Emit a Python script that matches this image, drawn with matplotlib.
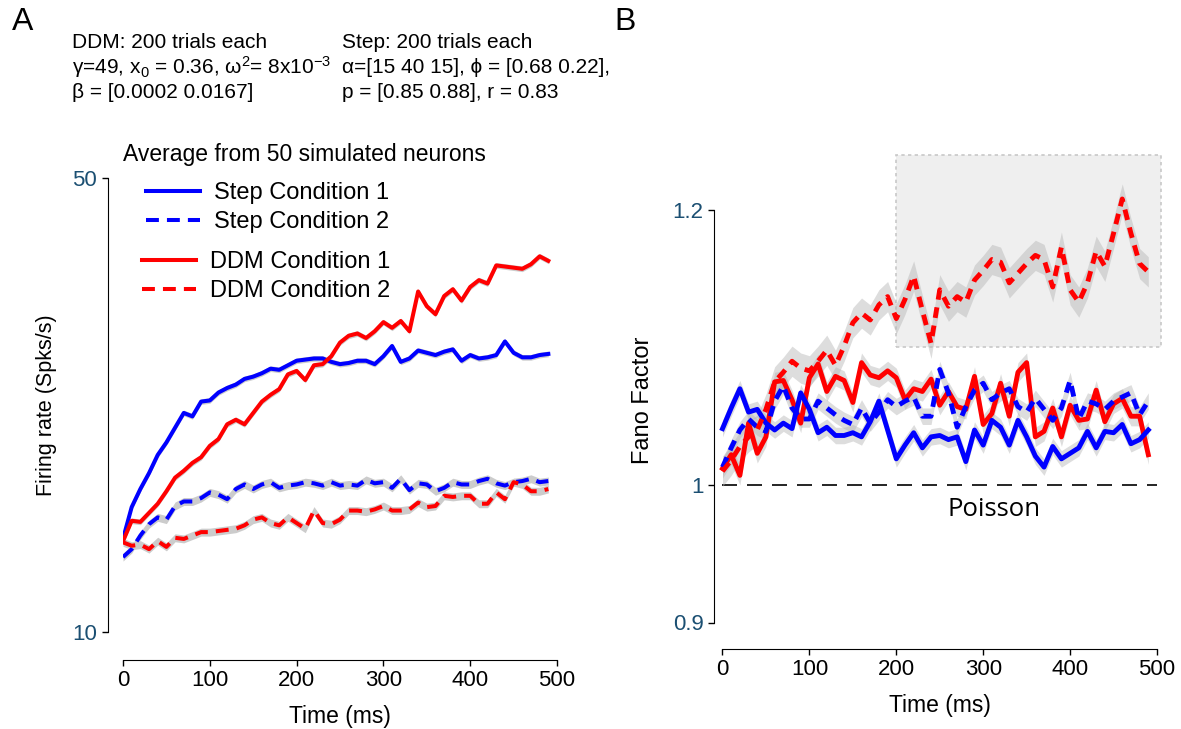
import numpy as np
import matplotlib
matplotlib.use("Agg")
import matplotlib.pyplot as plt
from matplotlib.patches import Rectangle

plt.rcParams['font.family'] = ['Liberation Sans', 'DejaVu Sans']
plt.rcParams['mathtext.fontset'] = 'custom'
plt.rcParams['mathtext.rm'] = 'Liberation Sans'
plt.rcParams['mathtext.it'] = 'Liberation Sans:italic'

# ---------------- data ----------------
time_ms = np.arange(0, 500, 10)

# Panel A: firing rate (Spks/s)
step1_fr = [18.2, 21.0, 22.6, 24.0, 25.6, 26.7, 28.0, 29.3, 29.0, 30.3,
            30.4, 31.1, 31.5, 31.8, 32.3, 32.5, 32.8, 33.2, 33.1, 33.5,
            33.9, 34.0, 34.1, 34.1, 33.8, 33.6, 33.7, 33.9, 33.9, 33.6,
            34.3, 35.2, 33.8, 34.1, 34.8, 34.6, 34.4, 34.7, 34.9, 33.9,
            34.4, 34.1, 34.2, 34.4, 35.6, 34.6, 34.2, 34.2, 34.4, 34.5]
step2_fr = [16.6, 17.3, 18.5, 19.5, 20.1, 19.9, 21.1, 21.5, 21.5, 21.8,
            22.3, 22.1, 21.7, 22.6, 23.0, 22.6, 23.0, 23.2, 22.7, 22.9,
            23.0, 23.2, 23.1, 22.9, 23.2, 22.9, 23.0, 22.9, 23.4, 23.1,
            23.2, 22.7, 23.5, 22.5, 23.1, 23.0, 22.4, 22.7, 23.2, 23.0,
            23.0, 23.3, 23.5, 23.1, 22.9, 23.2, 23.3, 23.5, 23.2, 23.3]
ddm1_fr = [18.0, 19.8, 19.7, 20.5, 21.3, 22.4, 23.6, 24.2, 24.9, 25.4,
           26.4, 27.0, 28.3, 28.7, 28.3, 29.3, 30.3, 30.9, 31.4, 32.7,
           33.0, 32.2, 33.5, 33.6, 34.3, 35.5, 36.1, 36.3, 35.9, 36.5,
           37.3, 36.8, 37.4, 36.5, 40.0, 38.7, 38.0, 39.6, 40.2, 39.2,
           40.4, 41.0, 40.7, 42.3, 42.2, 42.1, 42.0, 42.4, 43.1, 42.7]
ddm2_fr = [17.9, 17.6, 17.7, 17.3, 18.0, 17.5, 18.3, 18.2, 18.5, 18.8,
           18.8, 18.9, 19.0, 19.1, 19.4, 19.9, 20.1, 19.6, 19.4, 20.1,
           19.6, 19.1, 20.7, 19.6, 19.5, 19.9, 20.7, 20.7, 20.6, 20.8,
           21.1, 20.7, 20.7, 20.8, 21.4, 21.0, 21.1, 22.0, 21.9, 22.0,
           22.0, 21.3, 21.3, 22.3, 21.7, 23.2, 23.0, 22.4, 22.4, 22.6]
fr_sem = [0.25, 0.35, 0.25, 0.35]   # step1, step2, ddm1, ddm2

# Panel B: Fano factor
step1_ff = [1.041, 1.056, 1.070, 1.053, 1.055, 1.045, 1.040, 1.045, 1.041, 1.067,
            1.055, 1.038, 1.042, 1.036, 1.036, 1.038, 1.035, 1.046, 1.061, 1.040,
            1.019, 1.029, 1.038, 1.027, 1.035, 1.036, 1.033, 1.035, 1.017, 1.040,
            1.029, 1.047, 1.042, 1.029, 1.047, 1.035, 1.021, 1.013, 1.028, 1.019,
            1.023, 1.027, 1.039, 1.027, 1.039, 1.038, 1.044, 1.030, 1.033, 1.040]
step2_ff = [1.013, 1.027, 1.040, 1.048, 1.042, 1.039, 1.061, 1.072, 1.056, 1.048,
            1.048, 1.061, 1.056, 1.051, 1.047, 1.044, 1.056, 1.045, 1.053, 1.062,
            1.057, 1.061, 1.064, 1.050, 1.050, 1.084, 1.067, 1.042, 1.057, 1.069,
            1.074, 1.062, 1.067, 1.070, 1.057, 1.053, 1.063, 1.055, 1.047, 1.056,
            1.076, 1.048, 1.061, 1.059, 1.055, 1.061, 1.064, 1.067, 1.051, 1.061]
ddm1_ff = [1.012, 1.022, 1.007, 1.045, 1.023, 1.035, 1.075, 1.076, 1.062, 1.045,
           1.078, 1.088, 1.068, 1.079, 1.076, 1.060, 1.089, 1.080, 1.078, 1.083,
           1.078, 1.062, 1.070, 1.068, 1.077, 1.058, 1.068, 1.057, 1.055, 1.079,
           1.044, 1.052, 1.074, 1.050, 1.082, 1.089, 1.035, 1.039, 1.056, 1.035,
           1.058, 1.047, 1.048, 1.069, 1.046, 1.059, 1.063, 1.050, 1.050, 1.022]
ddm2_ff = [1.010, 1.018, 1.028, 1.035, 1.040, 1.055, 1.075, 1.082, 1.090, 1.085,
           1.083, 1.090, 1.098, 1.087, 1.101, 1.118, 1.125, 1.120, 1.131, 1.137,
           1.121, 1.135, 1.152, 1.127, 1.103, 1.142, 1.130, 1.137, 1.133, 1.149,
           1.156, 1.164, 1.162, 1.147, 1.154, 1.161, 1.167, 1.164, 1.144, 1.173,
           1.142, 1.133, 1.147, 1.170, 1.159, 1.183, 1.208, 1.183, 1.161, 1.155]
ff_sem = [0.006, 0.006, 0.007, 0.011]   # step1, step2, ddm1, ddm2
shade_t = [200, 505]
shade_ff = [1.10, 1.24]
poisson_ff = 1.0

labels = ['Step Condition 1', 'Step Condition 2', 'DDM Condition 1', 'DDM Condition 2']
header_ddm = ['DDM: 200 trials each',
              r'γ=49, x$_\mathregular{0}$ = 0.36, ω$^\mathregular{2}$= 8x10$^\mathregular{-3}$',
              'β = [0.0002 0.0167]']
header_step = ['Step: 200 trials each',
               'α=[15 40 15], ϕ = [0.68 0.22],',
               'p = [0.85 0.88], r = 0.83']

# ---------------- figure ----------------
W, H = 1181, 729
fig = plt.figure(figsize=(W / 100, H / 100), dpi=100)

def fx(px):
    return px / W

def fy(py):
    return 1 - py / H

BLUE = '#0000ff'
RED = '#ff0000'
TICKBLUE = '#1b4f72'
BAND = '#b4b4b4'

# ---------- Panel A ----------
axA = fig.add_axes([fx(123), fy(632), (557 - 123) / W, (632 - 178) / H])
axA.set_xlim(0, 500)
axA.set_ylim(10, 50)

seriesA = [(step1_fr, BLUE, '-'), (step2_fr, BLUE, '--'),
           (ddm1_fr, RED, '-'), (ddm2_fr, RED, '--')]
draw_order = [0, 2, 1, 3]
handlesA = {}
for k in draw_order:
    vals, col, ls = seriesA[k]
    v = np.array(vals)
    axA.fill_between(time_ms, v - fr_sem[k], v + fr_sem[k], color='#cccccc',
                     lw=0, zorder=2)
    if ls == '--':
        ln, = axA.plot(time_ms, v, color=col, lw=2.9, dashes=(3.2, 2.0),
                       solid_capstyle='butt', zorder=3, label=labels[k])
    else:
        ln, = axA.plot(time_ms, v, color=col, lw=2.9, zorder=3, label=labels[k])
    handlesA[k] = ln

for s in ['top', 'right']:
    axA.spines[s].set_visible(False)
axA.spines['left'].set_position(('outward', 11))
axA.spines['bottom'].set_position(('outward', 20))
axA.spines['left'].set_bounds(10, 50)
axA.spines['bottom'].set_bounds(0, 500)
axA.set_xticks([0, 100, 200, 300, 400, 500])
axA.set_yticks([10, 50])
axA.tick_params(axis='both', direction='out', length=4, width=1, labelsize=16)
for t in axA.get_yticklabels():
    t.set_color(TICKBLUE)
axA.set_xlabel('Time (ms)', fontsize=16.5, labelpad=10)
axA.set_ylabel('Firing rate (Spks/s)', fontsize=15.5, labelpad=11)

leg1 = axA.legend([handlesA[0], handlesA[1]], labels[0:2], frameon=False,
                  loc='upper left', bbox_to_anchor=(fx(146), fy(182)),
                  bbox_transform=fig.transFigure, fontsize=17, handlelength=2.3,
                  handletextpad=0.6, labelspacing=0.3, borderpad=0, borderaxespad=0)
axA.add_artist(leg1)
axA.legend([handlesA[2], handlesA[3]], labels[2:4], frameon=False,
           loc='upper left', bbox_to_anchor=(fx(142), fy(251)),
           bbox_transform=fig.transFigure, fontsize=17, handlelength=2.3,
           handletextpad=0.6, labelspacing=0.3, borderpad=0, borderaxespad=0)

fig.text(fx(123), fy(154), 'Average from 50 simulated neurons', fontsize=16.5,
         va='center', ha='left')
for i, s in enumerate(header_ddm):
    fig.text(fx(72), fy(42 + 25.5 * i), s, fontsize=15, va='center', ha='left')
for i, s in enumerate(header_step):
    fig.text(fx(342), fy(42 + 25.5 * i), s, fontsize=15, va='center', ha='left')
fig.text(fx(12), fy(22), 'A', fontsize=23, va='center', ha='left')
fig.text(fx(614), fy(22), 'B', fontsize=23, va='center', ha='left')

# ---------- Panel B ----------
axB = fig.add_axes([fx(722.5), fy(622.5), (1157 - 722.5) / W, (622.5 - 148.1) / H])
axB.set_xlim(0, 500)
axB.set_ylim(0.9, 1.245)
axB.add_patch(Rectangle((shade_t[0], shade_ff[0]), shade_t[1] - shade_t[0],
                        shade_ff[1] - shade_ff[0], facecolor='#efefef',
                        edgecolor='#c8c8c8', lw=1.2, ls=(0, (2, 2)), zorder=0,
                        clip_on=False))
axB.plot([0, 500], [poisson_ff, poisson_ff], color='black', lw=1.2,
         dashes=(9, 6), zorder=1)
axB.text(313, 0.991, 'Poisson', fontsize=18.5, ha='center', va='top',
         family=['Open Sans', 'DejaVu Sans'])

seriesB = [(step1_ff, BLUE, '-'), (step2_ff, BLUE, '--'),
           (ddm1_ff, RED, '-'), (ddm2_ff, RED, '--')]
for k in [2, 0, 1, 3]:
    vals, col, ls = seriesB[k]
    v = np.array(vals)
    axB.fill_between(time_ms, v - ff_sem[k], v + ff_sem[k], color=BAND,
                     alpha=0.45, lw=0, zorder=2)
    if ls == '--':
        axB.plot(time_ms, v, color=col, lw=3.5, dashes=(2.2, 1.6),
                 solid_capstyle='butt', zorder=3, clip_on=False)
    else:
        axB.plot(time_ms, v, color=col, lw=3.5, zorder=3, clip_on=False)

for s in ['top', 'right']:
    axB.spines[s].set_visible(False)
axB.spines['left'].set_position(('outward', 6))
axB.spines['bottom'].set_position(('outward', 19))
axB.spines['left'].set_bounds(0.9, 1.2)
axB.spines['bottom'].set_bounds(0, 500)
axB.set_xticks([0, 100, 200, 300, 400, 500])
axB.set_yticks([0.9, 1.0, 1.2])
axB.set_yticklabels(['0.9', '1', '1.2'])
axB.tick_params(axis='both', direction='out', length=4, width=1, labelsize=16)
for t in axB.get_yticklabels():
    t.set_color(TICKBLUE)
axB.set_xlabel('Time (ms)', fontsize=16.5, labelpad=10)
axB.set_ylabel('Fano Factor', fontsize=17)
axB.yaxis.set_label_coords(-0.158, 0.469)

fig.savefig('out.png', dpi=100)
